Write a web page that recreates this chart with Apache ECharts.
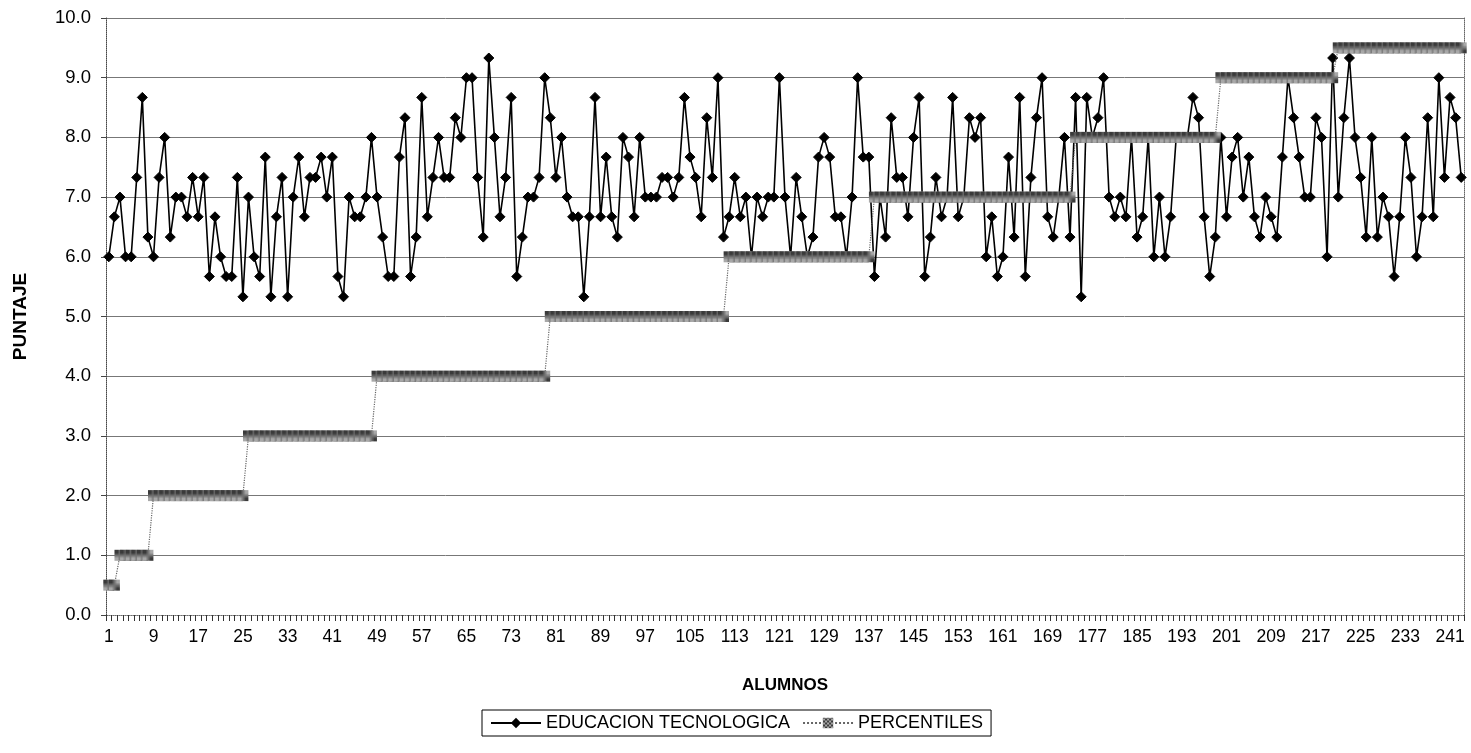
<!DOCTYPE html>
<html>
<head>
<meta charset="utf-8">
<script src="https://cdn.jsdelivr.net/npm/echarts@6/dist/echarts.min.js"></script>
<style>
html,body{margin:0;padding:0;background:#fff;}
#chart{width:1471px;height:753px;}
</style>
</head>
<body>
<div id="chart"></div>
<script>
// ---- DATA ----
const scores = [
 6.0,6.67,7.0,6.0,6.0,7.33,8.67,6.33,6.0,7.33,
 8.0,6.33,7.0,7.0,6.67,7.33,6.67,7.33,5.67,6.67,
 6.0,5.67,5.67,7.33,5.33,7.0,6.0,5.67,7.67,5.33,
 6.67,7.33,5.33,7.0,7.67,6.67,7.33,7.33,7.67,7.0,
 7.67,5.67,5.33,7.0,6.67,6.67,7.0,8.0,7.0,6.33,
 5.67,5.67,7.67,8.33,5.67,6.33,8.67,6.67,7.33,8.0,
 7.33,7.33,8.33,8.0,9.0,9.0,7.33,6.33,9.33,8.0,
 6.67,7.33,8.67,5.67,6.33,7.0,7.0,7.33,9.0,8.33,
 7.33,8.0,7.0,6.67,6.67,5.33,6.67,8.67,6.67,7.67,
 6.67,6.33,8.0,7.67,6.67,8.0,7.0,7.0,7.0,7.33,
 7.33,7.0,7.33,8.67,7.67,7.33,6.67,8.33,7.33,9.0,
 6.33,6.67,7.33,6.67,7.0,6.0,7.0,6.67,7.0,7.0,
 9.0,7.0,6.0,7.33,6.67,6.0,6.33,7.67,8.0,7.67,
 6.67,6.67,6.0,7.0,9.0,7.67,7.67,5.67,7.0,6.33,
 8.33,7.33,7.33,6.67,8.0,8.67,5.67,6.33,7.33,6.67,
 7.0,8.67,6.67,7.0,8.33,8.0,8.33,6.0,6.67,5.67,
 6.0,7.67,6.33,8.67,5.67,7.33,8.33,9.0,6.67,6.33,
 7.0,8.0,6.33,8.67,5.33,8.67,8.0,8.33,9.0,7.0,
 6.67,7.0,6.67,8.0,6.33,6.67,8.0,6.0,7.0,6.0,
 6.67,8.0,8.0,8.0,8.67,8.33,6.67,5.67,6.33,8.0,
 6.67,7.67,8.0,7.0,7.67,6.67,6.33,7.0,6.67,6.33,
 7.67,9.0,8.33,7.67,7.0,7.0,8.33,8.0,6.0,9.33,
 7.0,8.33,9.33,8.0,7.33,6.33,8.0,6.33,7.0,6.67,
 5.67,6.67,8.0,7.33,6.0,6.67,8.33,6.67,9.0,7.33,
 8.67,8.33,7.33
];
// percentile steps: level and number of students at that level
const percentileLevels = [0.5, 1, 2, 3, 4, 5, 6, 7, 8, 9, 9.5];
const percentileRuns   = [2, 6, 17, 23, 31, 32, 26, 36, 26, 21, 23];
const yTickLabels = ['0.0','1.0','2.0','3.0','4.0','5.0','6.0','7.0','8.0','9.0','10.0'];

const categories = scores.map((_, i) => String(i + 1));
const percentiles = [];
percentileLevels.forEach((lv, k) => { for (let j = 0; j < percentileRuns[k]; j++) percentiles.push(lv); });

// hatched pattern for percentile markers
const pc = document.createElement('canvas');
pc.width = 4; pc.height = 4;
const ctx = pc.getContext('2d');
ctx.fillStyle = '#a8a8a8'; ctx.fillRect(0,0,4,4);
ctx.fillStyle = '#3a3a3a'; ctx.fillRect(0,0,2,2); ctx.fillRect(2,2,2,2);
const hatch = { image: pc, repeat: 'repeat' };

const FONT = 'Liberation Sans, Arial, sans-serif';
const chart = echarts.init(document.getElementById('chart'));
chart.setOption({
  animation: false,
  backgroundColor: '#fff',
  grid: { left: 106, right: 7, top: 18, bottom: 138, containLabel: false },
  legend: {
    left: 482, top: 710,
    padding: [4, 8, 4, 8],
    borderColor: '#000', borderWidth: 1,
    itemWidth: 50, itemHeight: 13, itemGap: 12,
    textStyle: { fontFamily: FONT, fontSize: 18, color: '#000' },
    data: ['EDUCACION TECNOLOGICA', 'PERCENTILES']
  },
  xAxis: [{
    type: 'category', data: categories, boundaryGap: true,
    name: 'ALUMNOS', nameLocation: 'middle', nameGap: 62,
    nameTextStyle: { fontFamily: FONT, fontSize: 17, fontWeight: 'bold', color: '#000' },
    axisLine: { lineStyle: { color: '#222', width: 1 } },
    axisTick: { show: true, interval: 0, length: 6, lineStyle: { color: '#333' } },
    axisLabel: { interval: 7, margin: 13, fontFamily: FONT, fontSize: 17.5, color: '#000' },
    splitLine: { show: false }
  }, {
    type: 'category', data: categories, position: 'top', boundaryGap: true,
    axisLine: { show: true, lineStyle: { color: '#999', type: 'dotted' } },
    axisTick: { show: false }, axisLabel: { show: false }
  }],
  yAxis: [{
    type: 'value', min: 0, max: 10, interval: 1,
    name: 'PUNTAJE', nameLocation: 'middle', nameGap: 76, nameRotate: 90,
    nameTextStyle: { fontFamily: FONT, fontSize: 19, fontWeight: 'bold', color: '#000' },
    axisLine: { show: true, lineStyle: { color: '#444', type: 'dotted' } },
    axisTick: { show: true, length: 5, lineStyle: { color: '#444' } },
    axisLabel: { margin: 15, fontFamily: FONT, fontSize: 18.5, color: '#000',
      formatter: v => yTickLabels[Math.round(v)] },
    splitLine: { show: true, lineStyle: { color: '#777', width: 1 } }
  }, {
    type: 'value', min: 0, max: 10, interval: 1, position: 'right',
    axisLine: { show: true, lineStyle: { color: '#666', type: 'dotted' } },
    axisTick: { show: false }, axisLabel: { show: false }, splitLine: { show: false }
  }],
  series: [{
    name: 'EDUCACION TECNOLOGICA', type: 'line', data: scores,
    symbol: 'diamond', symbolSize: 10, showAllSymbol: true,
    lineStyle: { color: '#000', width: 1.6 },
    itemStyle: { color: '#000', borderColor: '#000' },
    z: 2
  }, {
    name: 'PERCENTILES', type: 'line', data: percentiles,
    symbol: 'rect', symbolSize: 11, showAllSymbol: true,
    lineStyle: { color: '#666', width: 1.2, type: 'dotted' },
    itemStyle: { color: hatch, borderWidth: 0 },
    z: 3
  }]
});
</script>
</body>
</html>
